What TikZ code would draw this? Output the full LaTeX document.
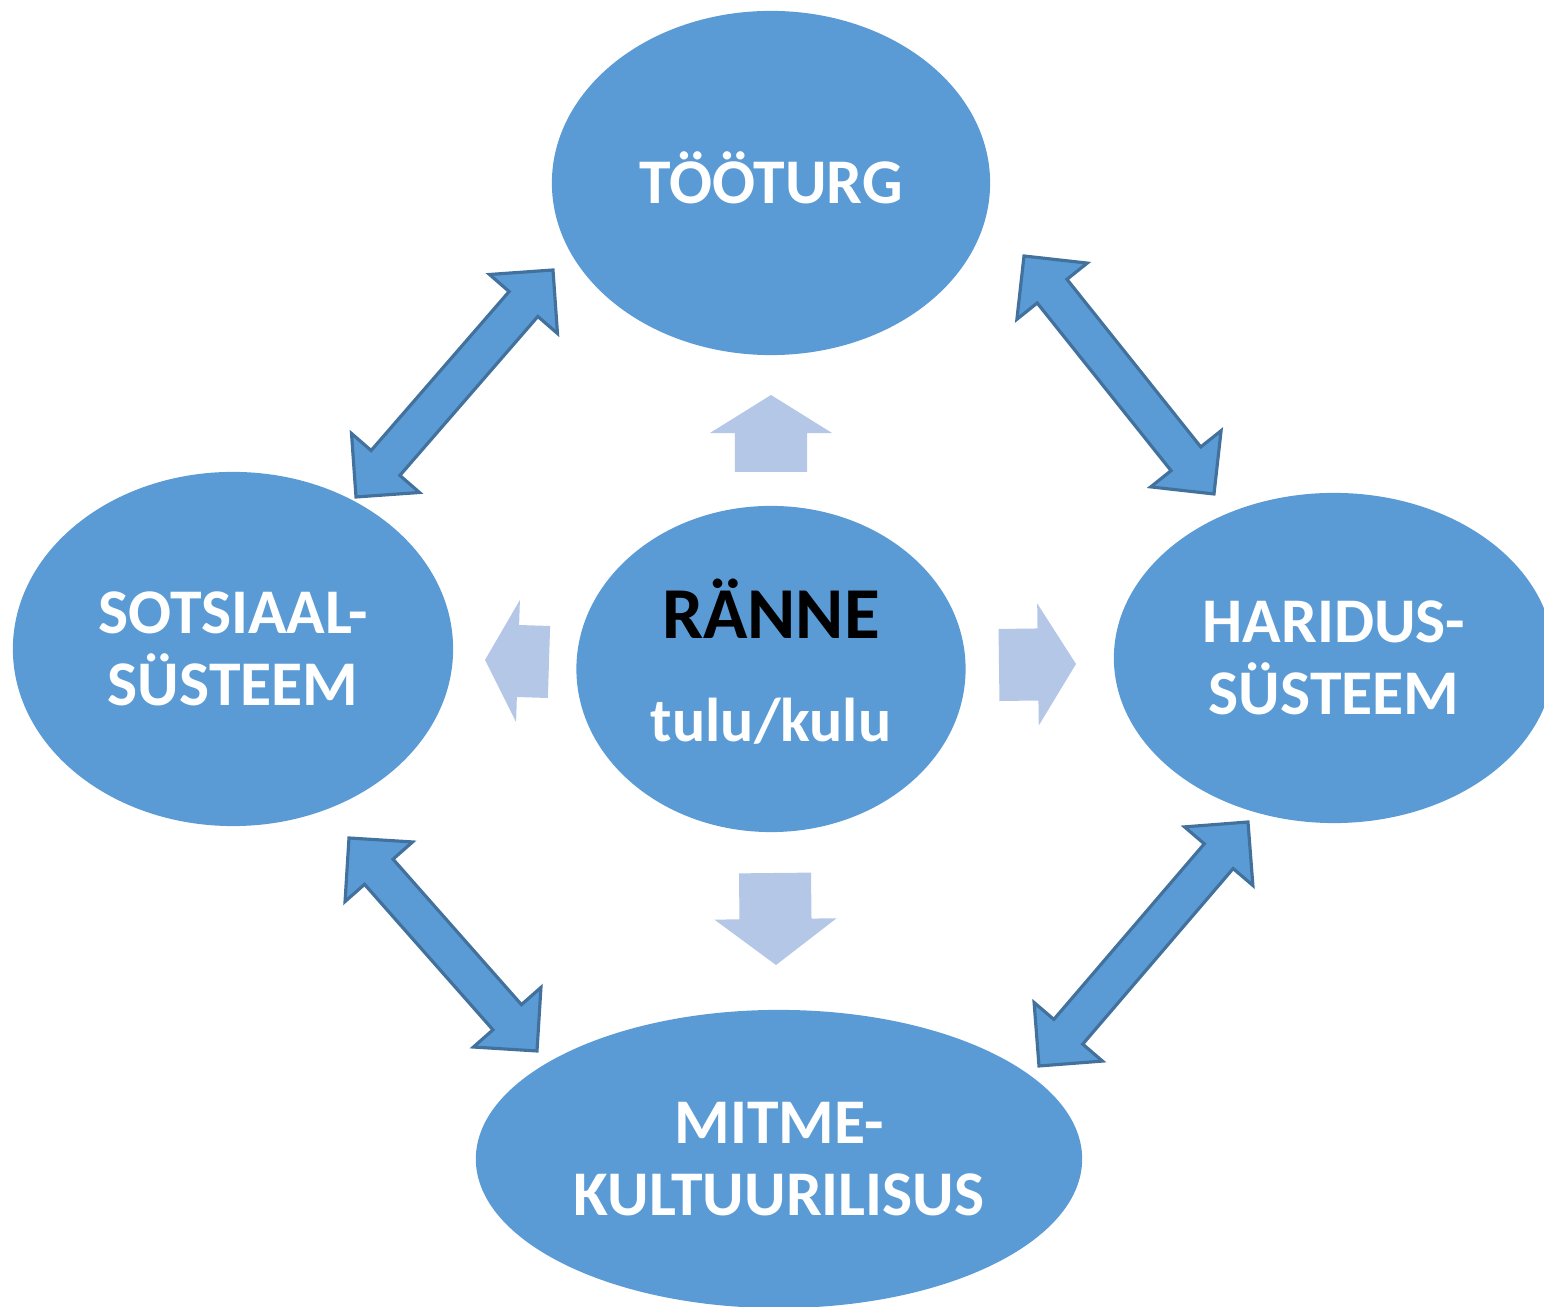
\documentclass[tikz,border=0pt]{standalone}
\usepackage{fontspec}
\setmainfont{Carlito}
\usepackage{tikz}
\usetikzlibrary{shapes.geometric}
\usetikzlibrary{calc}

\definecolor{ovalblue}{HTML}{5B9BD5}
\definecolor{edgeblue}{HTML}{41719C}
\definecolor{paleblue}{HTML}{B4C7E7}

\tikzset{
	oval/.style={ellipse, fill=ovalblue, inner sep=0pt, align=center, text=white,
		font=\bfseries\fontsize{18.1}{20.5}\selectfont},
	linkarrow/.style={fill=ovalblue, draw=edgeblue, line width=0.9pt, line join=miter},
	flowarrow/.style={fill=paleblue}
}

% two-headed arrow from #1 to #2
\newcommand{\pairarrow}[2]{%
	\filldraw[linkarrow] (#1)
		-- ($(#1)!0.45cm!(#2)!0.45cm!90:(#2)$)
		-- ($(#1)!0.45cm!(#2)!0.19cm!90:(#2)$)
		-- ($(#2)!0.45cm!(#1)!0.19cm!-90:(#1)$)
		-- ($(#2)!0.45cm!(#1)!0.45cm!-90:(#1)$)
		-- (#2)
		-- ($(#2)!0.45cm!(#1)!0.45cm!90:(#1)$)
		-- ($(#2)!0.45cm!(#1)!0.19cm!90:(#1)$)
		-- ($(#1)!0.45cm!(#2)!0.19cm!-90:(#2)$)
		-- ($(#1)!0.45cm!(#2)!0.45cm!-90:(#2)$)
		-- cycle;}

% block arrow from tail #1 to tip #2, head length #3
\newcommand{\flowarrow}[3]{%
	\fill[flowarrow] ($(#1)!0.36cm!90:(#2)$)
		-- ($(#2)!#3!(#1)!0.36cm!-90:(#1)$)
		-- ($(#2)!#3!(#1)!0.61cm!-90:(#1)$)
		-- (#2)
		-- ($(#2)!#3!(#1)!0.61cm!90:(#1)$)
		-- ($(#2)!#3!(#1)!0.36cm!90:(#1)$)
		-- ($(#1)!0.36cm!-90:(#2)$)
		-- cycle;}

\begin{document}
\begin{tikzpicture}[x=0.01cm, y=-0.01cm]
		\clip (0, 0) rectangle (1544, 1307);
		% Ovals:
		\node[oval, minimum width=4.38cm, minimum height=3.44cm, text height=11.4pt, text depth=0pt] (tooturg) at (771, 183) {TÖÖTURG};
		\node[oval, minimum width=4.40cm, minimum height=3.54cm] (sotsiaal) at (233, 649) {SOTSIAAL-\\SÜSTEEM};
		\node[oval, minimum width=3.89cm, minimum height=3.26cm, text depth=5pt, font=\bfseries\fontsize{17.6}{29.3}\selectfont] (ranne) at (771, 669)
			{{\fontsize{20.8}{29.3}\selectfont\color{black}RÄNNE}\\tulu/kulu};
		\node[oval, minimum width=4.40cm, minimum height=3.30cm] (haridus) at (1334, 658) {HARIDUS-\\SÜSTEEM};
		\node[oval, minimum width=6.06cm, minimum height=2.98cm] (mitme) at (779, 1159) {MITME-\\KULTUURILISUS};

		% Arrow ends:
		\coordinate (tlA) at (553, 270);   \coordinate (tlB) at (356, 497);
		\coordinate (trA) at (1024, 256);  \coordinate (trB) at (1214, 494);
		\coordinate (blA) at (349, 838);   \coordinate (blB) at (537, 1051);
		\coordinate (brA) at (1248, 822);  \coordinate (brB) at (1039, 1066);
		\coordinate (upT) at (771, 472);   \coordinate (upP) at (771, 395);
		\coordinate (ltT) at (549, 662);   \coordinate (ltP) at (485, 660);
		\coordinate (rtT) at (999, 665);   \coordinate (rtP) at (1076, 664);
		\coordinate (dnT) at (775, 873);   \coordinate (dnP) at (776, 965);

		% Arrows:
		\pairarrow{tlA}{tlB}
		\pairarrow{trA}{trB}
		\pairarrow{blA}{blB}
		\pairarrow{brA}{brB}
		\flowarrow{upT}{upP}{0.38cm}
		\flowarrow{ltT}{ltP}{0.33cm}
		\flowarrow{rtT}{rtP}{0.38cm}
		\flowarrow{dnT}{dnP}{0.46cm}
	\end{tikzpicture}
\end{document}
